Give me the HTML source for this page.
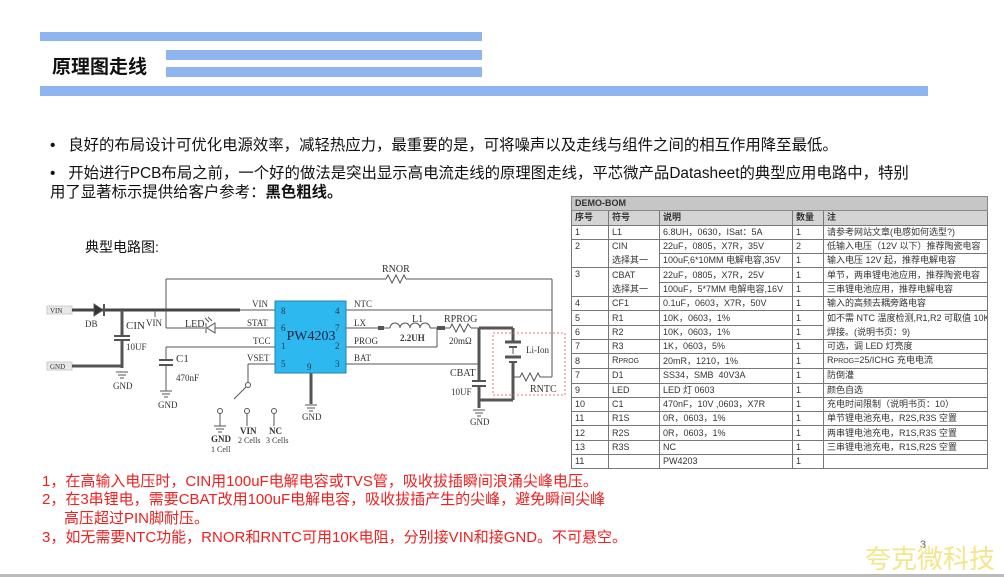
<!DOCTYPE html>
<html><head><meta charset="utf-8"><style>
body{margin:0;width:1004px;height:577px;background:#fff;position:relative;overflow:hidden;font-family:"Liberation Sans","Noto Sans CJK SC",sans-serif}
.a{position:absolute;white-space:nowrap}
.bar{position:absolute;background:#8fb5f0}
table{position:absolute;left:571px;top:196px;border-collapse:collapse;font-size:9px;color:#333;font-family:"Liberation Sans","Noto Sans CJK SC",sans-serif;table-layout:fixed;width:416px}
td{border:1px solid #777;padding:0 3px;height:13.3px;line-height:13px;white-space:nowrap;overflow:hidden}
.red{color:#f02020;font-size:15px}
</style></head><body>
<div class="bar" style="left:40px;top:32px;width:442px;height:9px"></div>
<div class="bar" style="left:166px;top:50px;width:316px;height:10px"></div>
<div class="bar" style="left:166px;top:67px;width:316px;height:10px"></div>
<div class="bar" style="left:40px;top:86px;width:888px;height:10px"></div>
<div class="a" style="left:52px;top:52px;font-size:19px;font-weight:bold;color:#111">原理图走线</div>
<div class="a" style="left:50px;top:133px;font-size:15.4px;color:#111">•&nbsp;&nbsp;&nbsp;良好的布局设计可优化电源效率，减轻热应力，最重要的是，可将噪声以及走线与组件之间的相互作用降至最低。</div>
<div class="a" style="left:50px;top:161px;font-size:15.4px;color:#111">•&nbsp;&nbsp;&nbsp;开始进行PCB布局之前，一个好的做法是突出显示高电流走线的原理图走线，平芯微产品Datasheet的典型应用电路中，特别</div>
<div class="a" style="left:50px;top:180px;font-size:15.4px;color:#111">用了显著标示提供给客户参考：<b>黑色粗线。</b></div>
<div class="a" style="left:85px;top:237px;font-size:14px;color:#111">典型电路图:</div>

<svg class="a" style="left:0;top:0" width="570" height="470" font-family="Liberation Serif,serif" font-size="9" fill="#333">
<g stroke="#555" stroke-width="1" fill="none">
<rect x="47" y="306" width="25" height="8" fill="#e8e8e8" stroke="#ccc"/>
<rect x="47" y="362" width="25" height="8" fill="#e8e8e8" stroke="#ccc"/>
<line x1="72" y1="310" x2="275" y2="310"/>
<line x1="72" y1="310" x2="240" y2="310" stroke="#444" stroke-width="3"/>
<polygon points="94,304 94,316 103,310" fill="#333"/><line x1="104" y1="304" x2="104" y2="316" stroke-width="2"/>
<line x1="122" y1="310" x2="122" y2="336" stroke-width="3"/>
<line x1="114" y1="336" x2="130" y2="336" stroke-width="2"/><line x1="114" y1="340" x2="130" y2="340" stroke-width="2"/>
<line x1="122" y1="340" x2="122" y2="368" stroke-width="3"/>
<line x1="72" y1="366" x2="122" y2="366" stroke-width="3"/>
<line x1="116" y1="372" x2="128" y2="372"/><line x1="118" y1="375" x2="126" y2="375"/><line x1="120" y1="378" x2="124" y2="378"/>
<line x1="155" y1="310" x2="155" y2="317"/>
<line x1="166" y1="279" x2="166" y2="328"/>
<line x1="166" y1="279" x2="386" y2="279"/>
<polyline points="386,279 388,275 392,283 396,275 400,283 404,275 406,279"/>
<line x1="406" y1="279" x2="552" y2="279"/>
<line x1="552" y1="279" x2="552" y2="377"/>
<line x1="345" y1="310" x2="552" y2="310"/>
<line x1="166" y1="328" x2="205" y2="328"/><line x1="215" y1="328" x2="275" y2="328"/>
<polygon points="215,323 215,333 207,328"/><line x1="206" y1="323" x2="206" y2="333"/>
<line x1="209" y1="322" x2="205" y2="318"/><line x1="212" y1="321" x2="208" y2="317"/>
<line x1="166" y1="347" x2="275" y2="347"/><line x1="166" y1="347" x2="166" y2="360"/>
<line x1="159" y1="360" x2="173" y2="360" stroke-width="2"/><line x1="159" y1="365" x2="173" y2="365" stroke-width="2"/>
<line x1="166" y1="365" x2="166" y2="391"/>
<line x1="160" y1="391" x2="172" y2="391"/><line x1="162" y1="394" x2="170" y2="394"/><line x1="164" y1="397" x2="168" y2="397"/>
<line x1="248" y1="364" x2="275" y2="364"/><line x1="248" y1="364" x2="248" y2="382"/>
<circle cx="248" cy="385" r="2.5"/><line x1="246" y1="387" x2="234" y2="399"/>
<line x1="311" y1="373" x2="311" y2="404" stroke-width="3"/>
<line x1="305" y1="405" x2="317" y2="405"/><line x1="307" y1="408" x2="315" y2="408"/><line x1="309" y1="411" x2="313" y2="411"/>
<circle cx="220" cy="411" r="2.5"/><line x1="220" y1="413" x2="220" y2="426"/>
<line x1="214" y1="426" x2="226" y2="426"/><line x1="216" y1="429" x2="224" y2="429"/><line x1="218" y1="432" x2="222" y2="432"/>
<circle cx="247" cy="411" r="2.5"/><line x1="247" y1="413" x2="247" y2="426"/>
<circle cx="274" cy="411" r="2.5"/><line x1="274" y1="413" x2="274" y2="426"/>
<line x1="345" y1="328" x2="390" y2="328"/>
<line x1="378" y1="328" x2="384" y2="328" stroke-width="4"/>
<path d="M390 328 a5 5 0 0 1 10 0 a5 5 0 0 1 10 0 a5 5 0 0 1 10 0 a5 5 0 0 1 10 0"/>
<line x1="430" y1="328" x2="450" y2="328"/><line x1="437" y1="328" x2="445" y2="328" stroke-width="4"/>
<polyline points="450,328 452,324 456,332 460,324 464,332 468,324 471,328"/>
<line x1="471" y1="328" x2="479" y2="328"/>
<line x1="437" y1="328" x2="437" y2="347"/><line x1="345" y1="347" x2="437" y2="347"/>
<line x1="345" y1="364" x2="479" y2="364"/>
<line x1="479" y1="328" x2="479" y2="380" stroke-width="3"/>
<line x1="472" y1="381" x2="486" y2="381" stroke-width="2"/><line x1="472" y1="386" x2="486" y2="386" stroke-width="2"/>
<line x1="479" y1="386" x2="479" y2="408" stroke-width="3"/>
<line x1="479" y1="400" x2="513" y2="400" stroke-width="3"/>
<line x1="479" y1="328" x2="513" y2="328" stroke-width="3"/>
<line x1="513" y1="328" x2="513" y2="341" stroke-width="3"/>
<line x1="505" y1="342" x2="521" y2="342" stroke-width="3"/><line x1="509" y1="347" x2="517" y2="347" stroke-width="2"/>
<line x1="513" y1="347" x2="513" y2="354"/>
<line x1="505" y1="357" x2="521" y2="357" stroke-width="3"/><line x1="509" y1="362" x2="517" y2="362" stroke-width="2"/>
<line x1="513" y1="362" x2="513" y2="400" stroke-width="3"/>
<line x1="513" y1="377" x2="520" y2="377"/>
<polyline points="520,377 522,373 526,381 530,373 534,381 538,373 540,377"/>
<line x1="540" y1="377" x2="552" y2="377"/>
<line x1="473" y1="410" x2="485" y2="410"/><line x1="475" y1="413" x2="483" y2="413"/><line x1="477" y1="416" x2="481" y2="416"/>
<rect x="493" y="333" width="72" height="62" stroke="#f07070" stroke-dasharray="2,2"/>
</g>
<rect x="275" y="301" width="71" height="72" fill="#2db8ef" stroke="#2a7fb0"/>
<text x="311" y="340" font-size="14" text-anchor="middle" fill="#224">PW4203</text>
<g font-size="9">
<text x="252" y="307">VIN</text><text x="247" y="326">STAT</text><text x="253" y="344">TCC</text><text x="247" y="361">VSET</text>
<text x="281" y="314">8</text><text x="281" y="331">6</text><text x="281" y="349">1</text><text x="281" y="367">5</text>
<text x="335" y="314">4</text><text x="335" y="331">7</text><text x="335" y="349">2</text><text x="335" y="367">3</text>
<text x="307" y="370">9</text>
<text x="354" y="307">NTC</text><text x="354" y="326">LX</text><text x="354" y="344">PROG</text><text x="354" y="361">BAT</text>
<text x="50" y="313" font-size="7">VIN</text><text x="50" y="369" font-size="7">GND</text>
<text x="85" y="327">DB</text><text x="126" y="329" font-size="11">CIN</text><text x="126" y="350">10UF</text>
<text x="146" y="326">VIN</text><text x="113" y="389">GND</text>
<text x="185" y="327" font-size="10">LED</text>
<text x="176" y="362" font-size="11">C1</text><text x="176" y="381">470nF</text><text x="158" y="408">GND</text>
<text x="382" y="272" font-size="10">RNOR</text>
<text x="412" y="322" font-size="10">L1</text><text x="400" y="341" font-weight="bold">2.2UH</text>
<text x="444" y="322" font-size="10">RPROG</text><text x="449" y="344">20mΩ</text>
<text x="450" y="376" font-size="10">CBAT</text><text x="451" y="395">10UF</text><text x="470" y="425">GND</text>
<text x="526" y="353">Li-Ion</text><text x="530" y="392" font-size="10">RNTC</text>
<text x="302" y="420">GND</text>
<text x="211" y="442" font-weight="bold">GND</text><text x="211" y="452" font-size="8">1 Cell</text>
<text x="240" y="434" font-weight="bold">VIN</text><text x="238" y="443" font-size="8">2 Cells</text>
<text x="269" y="434" font-weight="bold">NC</text><text x="266" y="443" font-size="8">3 Cells</text>
</g>
</svg>

<table>
<colgroup><col style="width:37px"><col style="width:51px"><col style="width:133px"><col style="width:31px"><col style="width:164px"></colgroup>
<tr><td colspan="5" style="background:#c6c6c6;font-weight:bold;border-color:#888">DEMO-BOM</td></tr>
<tr style="background:#d4d4d4;font-weight:bold"><td>序号</td><td>符号</td><td>说明</td><td>数量</td><td>注</td></tr>
<tr><td>1</td><td>L1</td><td>6.8UH，0630，ISat：5A</td><td>1</td><td>请参考网站文章(电感如何选型?)</td></tr>
<tr><td rowspan="2" style="vertical-align:top">2</td><td style="border-bottom:none">CIN</td><td>22uF，0805，X7R，35V</td><td>2</td><td>低输入电压（12V 以下）推荐陶瓷电容</td></tr>
<tr><td style="border-top:none">选择其一</td><td>100uF,6*10MM 电解电容,35V</td><td>1</td><td>输入电压 12V 起，推荐电解电容</td></tr>
<tr><td rowspan="2" style="vertical-align:top">3</td><td style="border-bottom:none">CBAT</td><td>22uF，0805，X7R，25V</td><td>1</td><td>单节，两串锂电池应用，推荐陶瓷电容</td></tr>
<tr><td style="border-top:none">选择其一</td><td>100uF，5*7MM 电解电容,16V</td><td>1</td><td>三串锂电池应用，推荐电解电容</td></tr>
<tr><td>4</td><td>CF1</td><td>0.1uF，0603，X7R，50V</td><td>1</td><td>输入的高频去耦旁路电容</td></tr>
<tr><td>5</td><td>R1</td><td>10K，0603，1%</td><td>1</td><td style="border-bottom:none">如不需 NTC 温度检测,R1,R2 可取值 10K</td></tr>
<tr><td>6</td><td>R2</td><td>10K，0603，1%</td><td>1</td><td style="border-top:none">焊接。(说明书页：9)</td></tr>
<tr><td>7</td><td>R3</td><td>1K，0603，5%</td><td>1</td><td>可选，调 LED 灯亮度</td></tr>
<tr><td>8</td><td>R<span style="font-size:7px">PROG</span></td><td>20mR，1210，1%</td><td>1</td><td>R<span style="font-size:7px">PROG</span>=25/ICHG 充电电流</td></tr>
<tr><td>7</td><td>D1</td><td>SS34，SMB&nbsp;&nbsp;40V3A</td><td>1</td><td>防倒灌</td></tr>
<tr><td>9</td><td>LED</td><td>LED 灯 0603</td><td>1</td><td>颜色自选</td></tr>
<tr><td>10</td><td>C1</td><td>470nF，10V ,0603，X7R</td><td>1</td><td>充电时间限制（说明书页：10）</td></tr>
<tr><td>11</td><td>R1S</td><td>0R，0603，1%</td><td>1</td><td>单节锂电池充电，R2S,R3S 空置</td></tr>
<tr><td>12</td><td>R2S</td><td>0R，0603，1%</td><td>1</td><td>两串锂电池充电，R1S,R3S 空置</td></tr>
<tr><td>13</td><td>R3S</td><td>NC</td><td>1</td><td>三串锂电池充电，R1S,R2S 空置</td></tr>
<tr><td>11</td><td></td><td>PW4203</td><td>1</td><td></td></tr>
</table>

<div class="a red" style="left:42px;top:470px">1，在高输入电压时，CIN用100uF电解电容或TVS管，吸收拔插瞬间浪涌尖峰电压。</div>
<div class="a red" style="left:42px;top:488px">2，在3串锂电，需要CBAT改用100uF电解电容，吸收拔插产生的尖峰，避免瞬间尖峰</div>
<div class="a red" style="left:64px;top:507px">高压超过PIN脚耐压。</div>
<div class="a red" style="left:42px;top:526px">3，如无需要NTC功能，RNOR和RNTC可用10K电阻，分别接VIN和接GND。不可悬空。</div>
<div class="a" style="left:920px;top:539px;font-size:11px;color:#666">3</div>
<div class="a" style="left:865px;top:544px;font-size:26px;line-height:30px;color:#f3e68a">夸克微科技</div>
<div class="a" style="left:0;top:574px;width:1004px;height:3px;background:#bbb"></div>
</body></html>
